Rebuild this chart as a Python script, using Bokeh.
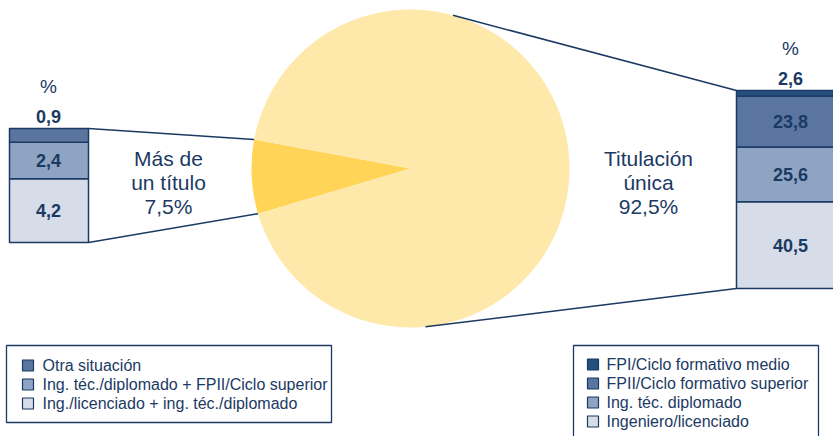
import math
from bokeh.plotting import figure
from bokeh.models import Range1d, ColumnDataSource
from bokeh.core.properties import value
from bokeh.embed import file_html
from bokeh.resources import INLINE

# ---- data ----
pie_labels = ["Más de\nun título\n7,5%", "Titulación\núnica\n92,5%"]
pie_values = [7.5, 92.5]
pie_colors = ["#FFD457", "#FEE8AA"]

left_values = [4.2, 2.4, 0.9]          # bottom -> top
left_labels = ["4,2", "2,4", "0,9"]
left_colors = ["#D6DDE8", "#8FA3C2", "#5A75A0"]
left_legend = ["Otra situación",
               "Ing. téc./diplomado + FPII/Ciclo superior",
               "Ing./licenciado + ing. téc./diplomado"]
left_legend_colors = ["#5A75A0", "#8FA3C2", "#D6DDE8"]

right_values = [40.5, 25.6, 23.8, 2.6]  # bottom -> top
right_labels = ["40,5", "25,6", "23,8", "2,6"]
right_colors = ["#D6DDE8", "#8FA3C2", "#5A75A0", "#24507E"]
right_legend = ["FPI/Ciclo formativo medio",
                "FPII/Ciclo formativo superior",
                "Ing. téc. diplomado",
                "Ingeniero/licenciado"]
right_legend_colors = ["#24507E", "#5A75A0", "#8FA3C2", "#D6DDE8"]

NAVY = "#1B3A63"
FONT = value("Liberation Sans")
W, H = 833, 436

def Y(ys):
    return H - ys

p = figure(width=W, height=H, output_backend="svg", toolbar_location=None,
           x_range=Range1d(0, W), y_range=Range1d(0, H), min_border=0)
p.axis.visible = False
p.grid.visible = False
p.outline_line_color = None
p.background_fill_color = "white"

# ---- pie ----
cx, cy, r = 410, Y(168), 159
start0 = 169.5
angs = [start0]
for v in pie_values:
    angs.append(angs[-1] + v / sum(pie_values) * 360)
src = ColumnDataSource(dict(start=[math.radians(a) for a in angs[:-1]],
                            end=[math.radians(a) for a in angs[1:]],
                            color=pie_colors))
p.wedge(x=cx, y=cy, radius=r, start_angle="start", end_angle="end",
        fill_color="color", line_color=None, source=src)

# ---- stacked bars ----
def stack(values, colors, labels, x0, x1, bottom, scale, top_label_x):
    b = bottom
    tops, bots = [], []
    for v in values:
        t = b + v * scale
        bots.append(b); tops.append(t)
        b = t
    p.quad(left=x0, right=x1, bottom=bots, top=tops, fill_color=colors,
           line_color=NAVY, line_width=1.5)
    mids = [(a + c) / 2 for a, c in zip(bots, tops)]
    p.text(x=[top_label_x] * (len(values) - 1), y=mids[:-1], text=labels[:-1],
           text_align="center", text_baseline="middle", text_color=NAVY,
           text_font=FONT, text_font_size="18px", text_font_style="bold")
    p.text(x=[top_label_x], y=[tops[-1] + 12], text=[labels[-1]],
           text_align="center", text_baseline="middle", text_color=NAVY,
           text_font=FONT, text_font_size="18px", text_font_style="bold")
    p.text(x=[top_label_x], y=[tops[-1] + 42], text=["%"],
           text_align="center", text_baseline="middle", text_color=NAVY,
           text_font=FONT, text_font_size="19px")
    return bots[0], tops[-1]

lb, lt = stack(left_values, left_colors, left_labels, 9, 88, Y(242), 15.2, 48)
rb, rt = stack(right_values, right_colors, right_labels, 736, 850, Y(288), 2.14, 790)

# ---- connector lines ----
def pie_pt(a):
    return cx + r * math.cos(math.radians(a)), cy + r * math.sin(math.radians(a))

pa = pie_pt(angs[0]); pb = pie_pt(angs[1])
p.line([88, pa[0]], [lt, pa[1]], line_color=NAVY, line_width=1.5)
p.line([88, pb[0]], [lb, pb[1]], line_color=NAVY, line_width=1.5)
pc = pie_pt(74.5); pd = pie_pt(-84.6)
p.line([pc[0], 736], [pc[1], rt], line_color=NAVY, line_width=1.5)
p.line([pd[0], 736], [pd[1], rb], line_color=NAVY, line_width=1.5)

# ---- pie labels ----
for lab, xc in zip(pie_labels, [168, 648]):
    lines = lab.split("\n")
    p.text(x=[xc] * 3, y=[Y(158), Y(182), Y(206)], text=lines,
           text_align="center", text_baseline="middle", text_color=NAVY,
           text_font=FONT, text_font_size="21px")

# ---- legends ----
def legend(labels, colors, bx0, bx1, by0, by1, sq_x, tx, ys):
    p.quad(left=bx0, right=bx1, top=Y(by0), bottom=Y(by1), fill_color=None,
           line_color=NAVY, line_width=1.3)
    p.rect(x=[sq_x] * len(labels), y=[Y(v) for v in ys], width=11, height=11,
           fill_color=colors, line_color=NAVY, line_width=1.2)
    p.text(x=[tx] * len(labels), y=[Y(v) for v in ys], text=labels,
           text_align="left", text_baseline="middle", text_color=NAVY,
           text_font=FONT, text_font_size="16px")

legend(left_legend, left_legend_colors, 6, 331, 345, 422, 27.5, 42, [365, 384, 403])
legend(right_legend, right_legend_colors, 573, 818, 345, 445, 592.5, 606,
       [364, 383, 402, 421])

open("out.html", "w").write(file_html(p, INLINE))
